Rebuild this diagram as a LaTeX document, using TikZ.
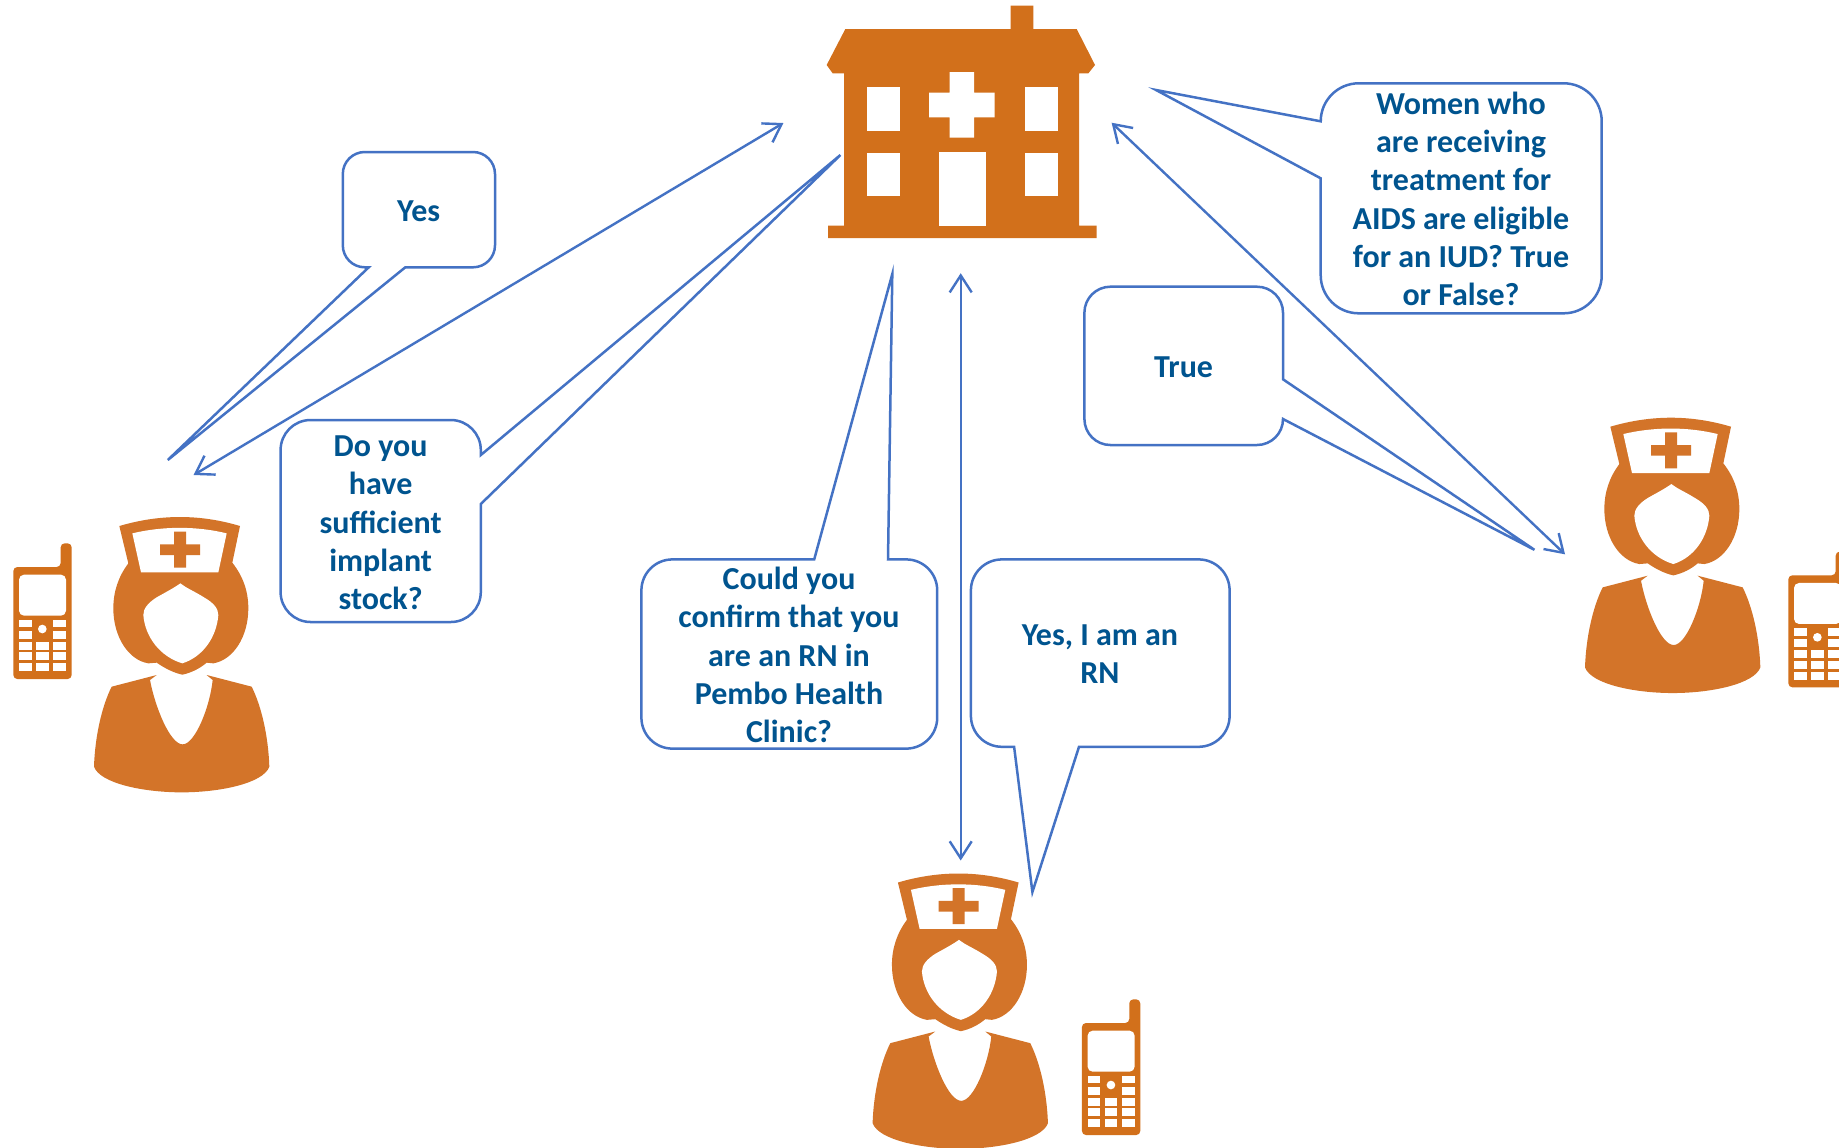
\documentclass[tikz,border=0pt]{standalone}
\usepackage{fontspec}
\setmainfont{Carlito}
\usetikzlibrary{arrows.meta}
\definecolor{hosporange}{HTML}{D2701B}
\definecolor{nurseorange}{HTML}{D37429}
\definecolor{linkblue}{HTML}{4472C4}
\definecolor{textblue}{HTML}{00548F}
\tikzset{
  bubblepath/.style={draw=linkblue,line width=1.25pt,line join=miter},
  linkarrow/.style={draw=linkblue,line width=1.2pt,{Straight Barb[length=8.5pt,width=11pt]}-{Straight Barb[length=8.5pt,width=11pt]}},
  bubbletext/.style={text=textblue,font=\fontsize{16}{19.15}\selectfont\bfseries,align=center,inner sep=0pt},
  nursefill/.style={fill=nurseorange},
  hospfill/.style={fill=hosporange},
  cutout/.style={fill=white}
}
\newcommand{\nursefigure}[2]{%
\begin{scope}[shift={(#1,#2)},scale=1/3]
  \path[nursefill] (385,190) .. controls (355,230) and (340,275) .. (340,325)
    .. controls (340,410) and (385,480) .. (445,490) -- (470,488)
    .. controls (495,505) and (520,518) .. (547,524)
    .. controls (575,518) and (600,505) .. (620,488) -- (640,490)
    .. controls (700,480) and (745,410) .. (745,325)
    .. controls (745,275) and (730,230) .. (697,188) -- (720,78)
    .. controls (600,42) and (480,42) .. (358,78) -- cycle;
  \path[cutout] (397,100) .. controls (490,78) and (590,78) .. (680,100) -- (655,217) -- (423,217) -- cycle;
  \path[nursefill] (522,95) -- (558,95) -- (558,133) -- (600,133) -- (600,165) -- (558,165) -- (558,203) -- (522,203) -- (522,165) -- (480,165) -- (480,133) -- (522,133) -- cycle;
  \path[cutout] (541,250) .. controls (520,265) and (500,275) .. (470,292)
    .. controls (445,308) and (430,325) .. (430,345)
    .. controls (435,410) and (480,470) .. (547,490)
    .. controls (610,470) and (650,410) .. (655,345)
    .. controls (655,325) and (640,308) .. (612,292)
    .. controls (580,272) and (560,265) .. (541,250) -- cycle;
  \path[nursefill] (470,525) -- (335,560) .. controls (305,620) and (285,710) .. (282,800)
    .. controls (300,850) and (430,877) .. (545,877)
    .. controls (660,877) and (790,850) .. (808,800)
    .. controls (805,710) and (785,620) .. (755,560) -- (620,525) -- (638,540)
    .. controls (630,620) and (585,733) .. (548,733)
    .. controls (510,733) and (465,620) .. (450,540) -- cycle;
\end{scope}}
\newcommand{\phonefigure}[2]{%
\begin{scope}[shift={(#1,#2)},scale=1/3]
  \path[hospfill,rounded corners=2pt] (40,201) -- (182,201) -- (182,130) -- (215,130) -- (215,537) -- (40,537) -- cycle;
  \path[cutout,rounded corners=2.5pt] (57,224) rectangle (198,347);
  \foreach \ya/\yb in {360/382,392/416,425/449,457/481,490/514}{
    \path[cutout] (57,\ya) rectangle (95,\yb);
    \path[cutout] (160,\ya) rectangle (198,\yb);
  }
  \foreach \ya/\yb in {425/449,457/481,490/514}{
    \path[cutout] (109,\ya) rectangle (146,\yb);
  }
  \path[cutout] (127,387) circle[radius=13];
\end{scope}}
\begin{document}
\begin{tikzpicture}[x=0.5pt,y=-0.5pt]
\useasboundingbox (0,0) rectangle (1839,1147);
\clip (0,0) rectangle (1839,1147);
\fill[white] (0,0) rectangle (1839,1147);

% hospital
\begin{scope}[shift={(800,0)},scale=1/3]
  \path[hospfill] (632,17) -- (700,17) -- (700,87) -- (830,87) -- (885,195) -- (865,220) -- (837,220) -- (837,677) -- (890,677) -- (890,714) -- (84,714) -- (84,677) -- (132,677) -- (132,220) -- (98,220) -- (80,195) -- (136,87) -- (632,87) -- cycle;
  \path[cutout] (201,262) rectangle (300,393);
  \path[cutout] (676,262) rectangle (775,393);
  \path[cutout] (201,458) rectangle (300,589);
  \path[cutout] (676,458) rectangle (775,589);
  \path[cutout] (418,456) rectangle (558,677);
  \path[cutout] (449,216) -- (522,216) -- (522,278) -- (584,278) -- (584,352) -- (522,352) -- (522,413) -- (449,413) -- (449,352) -- (387,352) -- (387,278) -- (449,278) -- cycle;
\end{scope}

% nurses and phones
\nursefigure{0}{500}
\phonefigure{0}{500}
\nursefigure{1491}{400.7}
\phonefigure{1775}{508.3}
\nursefigure{778.6}{856.5}
\phonefigure{1068.6}{956}

% connector ends
\coordinate (hospLeft) at (783.4,123);
\coordinate (nurseLeft) at (193.6,475);
\coordinate (hospBottom) at (960.7,273.2);
\coordinate (nurseBottom) at (960.7,860.5);
\coordinate (hospRight) at (1111.6,122.7);
\coordinate (nurseRight) at (1565,554.3);
\coordinate (tipYes) at (167.8,460);
\coordinate (tipStock) at (840.4,155);
\coordinate (tipConfirm) at (892.3,274);
\coordinate (tipRN) at (1032.4,892);
\coordinate (tipTrue) at (1534.4,549.8);
\coordinate (tipWomen) at (1156,90);

% connectors
\draw[linkarrow] (nurseLeft) -- (hospLeft);
\draw[linkarrow] (hospBottom) -- (nurseBottom);
\draw[linkarrow] (hospRight) -- (nurseRight);

% speech bubbles
\draw[bubblepath] (342.8,174) arc[start angle=180,end angle=270,radius=22] -- (473,152) arc[start angle=270,end angle=360,radius=22] -- (495,245.3) arc[start angle=0,end angle=90,radius=22] -- (405.3,267.3) -- (tipYes) -- (368.7,267.3) -- (364.8,267.3) arc[start angle=90,end angle=180,radius=22] -- cycle;
\node[bubbletext] (yesText) at (418.7,211) {Yes};

\draw[bubblepath] (280.6,450) arc[start angle=180,end angle=270,radius=30] -- (450.8,420) arc[start angle=270,end angle=360,radius=30] -- (480.8,455) -- (tipStock) -- (480.8,504) -- (480.8,592) arc[start angle=0,end angle=90,radius=30] -- (310.6,622) arc[start angle=90,end angle=180,radius=30] -- cycle;
\node[bubbletext] (stockText) at (380.6,523) {Do you\\have\\sufficient\\implant\\stock?};

\draw[bubblepath] (641.4,590.4) arc[start angle=180,end angle=270,radius=31] -- (814.2,559.4) -- (tipConfirm) -- (888,559.4) -- (906.2,559.4) arc[start angle=270,end angle=360,radius=31] -- (937.2,717.6) arc[start angle=0,end angle=90,radius=31] -- (672.4,748.6) arc[start angle=90,end angle=180,radius=31] -- cycle;
\node[bubbletext] (confirmText) at (789,655) {Could you\\confirm that you\\are an RN in\\Pembo Health\\Clinic?};

\draw[bubblepath] (970.9,590.4) arc[start angle=180,end angle=270,radius=31] -- (1198.6,559.4) arc[start angle=270,end angle=360,radius=31] -- (1229.6,715.8) arc[start angle=0,end angle=90,radius=31] -- (1079,746.8) -- (tipRN) -- (1014.1,746.8) -- (1001.9,746.8) arc[start angle=90,end angle=180,radius=31] -- cycle;
\node[bubbletext] (rnText) at (1100,654) {Yes, I am an\\RN};

\draw[bubblepath] (1084.4,312.7) arc[start angle=180,end angle=270,radius=26] -- (1257,286.7) arc[start angle=270,end angle=360,radius=26] -- (1283,379.3) -- (tipTrue) -- (1283,419) arc[start angle=0,end angle=90,radius=26] -- (1110.4,445) arc[start angle=90,end angle=180,radius=26] -- cycle;
\node[bubbletext] (trueText) at (1183.6,367) {True};

\draw[bubblepath] (1320.7,121.3) arc[start angle=180,end angle=270,radius=38] -- (1563.7,83.3) arc[start angle=270,end angle=360,radius=38] -- (1601.7,275.3) arc[start angle=0,end angle=90,radius=38] -- (1358.7,313.3) arc[start angle=90,end angle=180,radius=38] -- (1320.7,178.3) -- (tipWomen) -- cycle;
\node[bubbletext] (womenText) at (1461,199) {Women who\\are receiving\\treatment for\\AIDS are eligible\\for an IUD? True\\or False?};
\end{tikzpicture}
\end{document}
